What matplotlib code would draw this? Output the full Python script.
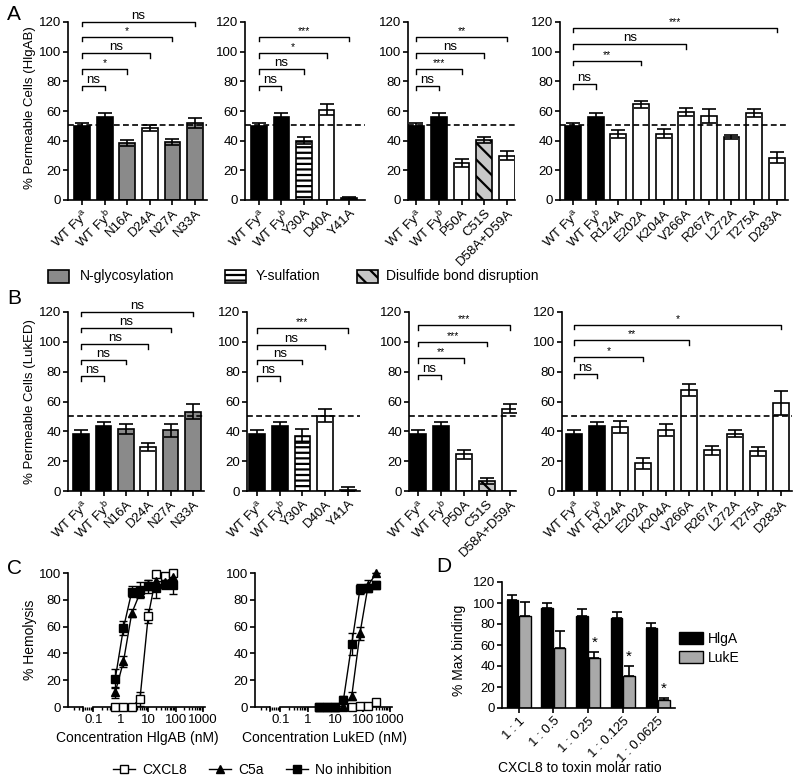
import numpy as np
import matplotlib
matplotlib.use('Agg')
import matplotlib.pyplot as plt
from matplotlib.patches import Rectangle, Patch
from matplotlib.lines import Line2D
from matplotlib.ticker import LogLocator, NullFormatter, FixedLocator, FixedFormatter

plt.rcParams['font.family'] = ['Liberation Sans', 'DejaVu Sans']
plt.rcParams['mathtext.fontset'] = 'custom'
plt.rcParams['mathtext.rm'] = 'Liberation Sans'
plt.rcParams['mathtext.it'] = 'Liberation Sans'
plt.rcParams['mathtext.default'] = 'regular'
plt.rcParams['hatch.linewidth'] = 1.6
plt.rcParams['axes.linewidth'] = 1.2
plt.rcParams['xtick.major.width'] = 1.2
plt.rcParams['ytick.major.width'] = 1.2

# ---------------- DATA ----------------
threshold = 50.5

# Panel A (HlgAB)
a1_labels = ['WT Fy$^a$', 'WT Fy$^b$', 'N16A', 'D24A', 'N27A', 'N33A']
a1_vals = [50, 56, 38.7, 48.4, 39.4, 51.8]
a1_errs = [1.8, 2.5, 2.0, 2.0, 2.0, 3.4]
a1_kind = ['wt', 'wt', 'glyco', 'plain', 'glyco', 'glyco']
a1_sig_to = [1, 2, 3, 4, 5]
a1_sig = ['ns', '*', 'ns', '*', 'ns']

a2_labels = ['WT Fy$^a$', 'WT Fy$^b$', 'Y30A', 'D40A', 'Y41A']
a2_vals = [50, 56, 40, 61, 1.5]
a2_errs = [1.8, 2.5, 2.2, 3.5, 0.5]
a2_kind = ['wt', 'wt', 'ysulf', 'plain', 'ysulf']
a2_sig_to = [1, 2, 3, 4]
a2_sig = ['ns', 'ns', '*', '***']

a3_labels = ['WT Fy$^a$', 'WT Fy$^b$', 'P50A', 'C51S', 'D58A+D59A']
a3_vals = [50, 56, 25, 40.5, 30]
a3_errs = [1.8, 2.5, 2.5, 2.2, 3.0]
a3_kind = ['wt', 'wt', 'plain', 'disulf', 'plain']
a3_sig_to = [1, 2, 3, 4]
a3_sig = ['ns', '***', 'ns', '**']

a4_labels = ['WT Fy$^a$', 'WT Fy$^b$', 'R124A', 'E202A', 'K204A', 'V266A',
             'R267A', 'L272A', 'T275A', 'D283A']
a4_vals = [50, 56, 44.3, 64.4, 44.7, 59.3, 56.6, 42.5, 58.6, 28.6]
a4_errs = [1.8, 2.5, 2.7, 2.2, 3.2, 2.8, 4.5, 1.5, 2.7, 3.6]
a4_kind = ['wt', 'wt'] + ['plain'] * 8
a4_sig_to = [1, 3, 5, 9]
a4_sig = ['ns', '**', 'ns', '***']

# Panel B (LukED)
b1_vals = [38, 43.4, 41.6, 29.5, 40.7, 53]
b1_errs = [2.8, 3.0, 3.5, 3.0, 4.5, 5.0]
b1_sig = ['ns', 'ns', 'ns', 'ns', 'ns']

b2_vals = [38, 43.4, 37, 50.5, 1]
b2_errs = [2.8, 3.0, 4.5, 4.5, 1.5]
b2_sig = ['ns', 'ns', 'ns', '***']

b3_vals = [38, 43.4, 24.7, 6.5, 55]
b3_errs = [2.8, 3.0, 3.0, 2.0, 3.0]
b3_sig = ['ns', '**', '***', '***']

b4_vals = [38, 43.4, 43, 18.5, 41.2, 68, 27.2, 38.5, 26.5, 58.8]
b4_errs = [2.8, 3.0, 4.0, 3.5, 4.0, 4.0, 3.0, 2.5, 3.0, 8.0]
b4_sig = ['ns', '*', '**', '*']

# Panel C (hemolysis)
hlg_conc = [0.625, 1.25, 2.5, 5, 10, 20, 40, 80]
hlg_cxcl8 = [0, 0, 0, 6, 68, 99, 98, 100]
hlg_cxcl8_err = [0, 0, 0, 5, 5, 2, 2, 1]
hlg_c5a = [11, 34, 70, 85, 91, 94, 93, 97]
hlg_c5a_err = [4, 4, 3, 3, 4, 3, 4, 3]
hlg_none = [21, 59, 86, 87.5, 90, 89, 92, 91]
hlg_none_err = [7, 5, 4, 6, 5, 8, 4, 7]

luk_conc = [2.5, 5, 10, 20, 40, 80, 160, 320]
luk_cxcl8 = [0, 0, 0, 0, 0, 1, 1, 4]
luk_cxcl8_err = [0, 0, 0, 0, 0, 1, 1, 2]
luk_c5a = [0, 0, 0, 0.5, 8, 55, 91, 100]
luk_c5a_err = [0, 0, 0, 0.5, 3, 5, 4, 0]
luk_none = [0, 0, 0, 5.5, 47, 88, 89, 91]
luk_none_err = [0, 0, 0, 3, 8, 4, 3, 3]

# Panel D (binding)
d_labels = ['1 : 1', '1 : 0.5', '1 : 0.25', '1 : 0.125', '1 : 0.0625']
d_hlga = [103, 95.4, 87.7, 86, 76.5]
d_hlga_err = [5, 4.6, 6.7, 5.4, 4]
d_luke = [87.6, 56.8, 47.5, 30.6, 8]
d_luke_err = [13, 17, 5.5, 9.2, 1.6]
d_luke_sig = ['', '', '*', '*', '*']

# ---------------- STYLES ----------------
STYLE = {
    'wt': ('black', None),
    'glyco': ('#8a8a8a', None),
    'plain': ('white', None),
    'ysulf': ('white', '---'),
    'disulf': ('#c8c8c8', '\\\\'),
}

W, H = 800, 782
fig = plt.figure(figsize=(8, 7.82), dpi=100)


def px_axes(l, t, r, b):
    return fig.add_axes([l / W, 1 - b / H, (r - l) / W, (b - t) / H])


def style_ax(ax):
    ax.spines['top'].set_visible(False)
    ax.spines['right'].set_visible(False)
    ax.tick_params(direction='out', length=3.5, labelsize=9.5, pad=1.5)


def bar_panel(ax, labels, vals, errs, kinds, sig_to, sig, levels, xlim):
    x = np.arange(len(vals))
    for xi, v, e, k in zip(x, vals, errs, kinds):
        fc, hatch = STYLE[k]
        ax.bar(xi, v, width=0.7, color=fc, edgecolor='k', linewidth=1.2,
               hatch=hatch, zorder=2)
    ax.errorbar(x, vals, yerr=errs, fmt='none', ecolor='k', elinewidth=1.2,
                capsize=4.8, capthick=1.2, zorder=3)
    ax.axhline(threshold, color='k', ls=(0, (3.5, 2)), lw=1.2, zorder=4)
    ax.set_ylim(0, 120)
    ax.set_yticks(range(0, 121, 20))
    ax.set_xlim(*xlim)
    ax.set_xticks(x)
    style_ax(ax)
    ax.set_xticklabels(labels, rotation=45, ha='right', rotation_mode='anchor',
                       fontsize=9.5)
    for t, s, lv in zip(sig_to, sig, levels):
        ax.plot([0, 0, t, t], [lv - 3, lv, lv, lv - 3], color='k', lw=1,
                clip_on=False)
        fs = 9.5 if s == 'ns' else 7.5
        ax.text(t / 2, lv + 2.0, s, ha='center', va='baseline', fontsize=fs,
                clip_on=False)


# Row A
axA1 = px_axes(68, 22, 207, 200)
bar_panel(axA1, a1_labels, a1_vals, a1_errs, a1_kind, a1_sig_to, a1_sig,
          [77, 88, 99, 110, 120], (-0.62, 5.53))
axA2 = px_axes(245, 22, 365, 200)
bar_panel(axA2, a2_labels, a2_vals, a2_errs, a2_kind, a2_sig_to, a2_sig,
          [77, 88, 99, 110], (-0.62, 4.71))
axA3 = px_axes(408, 22, 515, 200)
bar_panel(axA3, a3_labels, a3_vals, a3_errs, a3_kind, a3_sig_to, a3_sig,
          [77, 88, 99, 110], (-0.35, 4.35))
axA4 = px_axes(560, 22, 788, 200)
bar_panel(axA4, a4_labels, a4_vals, a4_errs, a4_kind, a4_sig_to, a4_sig,
          [78, 94, 105, 116], (-0.58, 9.5))

# Row B
axB1 = px_axes(68, 312, 204, 491)
bar_panel(axB1, a1_labels, b1_vals, b1_errs, a1_kind, a1_sig_to, b1_sig,
          [77, 88, 98.5, 109.5, 120], (-0.59, 5.5))
axB2 = px_axes(247, 312, 360, 491)
bar_panel(axB2, a2_labels, b2_vals, b2_errs, a2_kind, a2_sig_to, b2_sig,
          [77, 88, 98, 109], (-0.44, 4.53))
axB3 = px_axes(409, 312, 516, 491)
bar_panel(axB3, a3_labels, b3_vals, b3_errs, a3_kind, a3_sig_to, b3_sig,
          [78, 89, 100, 111], (-0.39, 4.26))
axB4 = px_axes(562, 312, 792, 491)
bar_panel(axB4, a4_labels, b4_vals, b4_errs, a4_kind, a4_sig_to, b4_sig,
          [78.5, 90, 101, 111.5], (-0.52, 9.48))

fig.text(30 / W, 1 - 108 / H, '% Permeable Cells (HlgAB)', rotation=90,
         ha='center', va='center', fontsize=9.5)
fig.text(30 / W, 1 - 402 / H, '% Permeable Cells (LukED)', rotation=90,
         ha='center', va='center', fontsize=9.5)

# Legend between rows A and B
leg_items = [('N-glycosylation', 'glyco', 48, 80),
             ('Y-sulfation', 'ysulf', 225, 256),
             ('Disulfide bond disruption', 'disulf', 357, 386)]
for name, kind, x0, tx in leg_items:
    fc, hatch = STYLE[kind]
    r = Rectangle((x0 / W, 1 - 283 / H), 21 / W, 13 / H, transform=fig.transFigure,
                  facecolor=fc, edgecolor='k', lw=1.2, hatch=hatch)
    fig.add_artist(r)
    fig.text(tx / W, 1 - 276.5 / H, name, ha='left', va='center', fontsize=10)

# Panel letters
fig.text(7 / W, 1 - 15 / H, 'A', fontsize=15, ha='left', va='center')
fig.text(7 / W, 1 - 298 / H, 'B', fontsize=15, ha='left', va='center')
fig.text(7 / W, 1 - 568 / H, 'C', fontsize=15, ha='left', va='center')
fig.text(436 / W, 1 - 567 / H, 'D', fontsize=15, ha='left', va='center')


# Panel C
def curve_panel(ax, conc, series):
    for vals, errs, mk, mfc in series:
        ax.errorbar(conc, vals, yerr=errs, color='k', lw=1.0, marker=mk,
                    markersize=5.5, mfc=mfc, mec='k', mew=1.0, capsize=3,
                    capthick=1.0, elinewidth=1.0, clip_on=False, zorder=3)
    ax.set_xscale('log')
    ax.set_xlim(0.0118, 1180)
    ax.set_ylim(0, 100)
    ax.set_yticks(range(0, 101, 20))
    ax.xaxis.set_major_locator(FixedLocator([0.1, 1, 10, 100, 1000]))
    ax.xaxis.set_major_formatter(FixedFormatter(['0.1', '1', '10', '100', '1000']))
    ax.xaxis.set_minor_locator(LogLocator(base=10, subs=np.arange(2, 10), numticks=20))
    ax.xaxis.set_minor_formatter(NullFormatter())
    style_ax(ax)
    ax.tick_params(axis='x', which='minor', length=2.5, width=1.0)
    ax.spines['bottom'].set_bounds(0.1, 1180)
    ax.plot([0.0118, 0.04], [0, 0], color='k', lw=1.2, clip_on=False,
            solid_capstyle='butt')
    ax.plot([0.04, 0.04], [0, -3], color='k', lw=1.2, clip_on=False)


axC1 = px_axes(68, 573, 205, 707)
curve_panel(axC1, hlg_conc, [
    (hlg_cxcl8, hlg_cxcl8_err, 's', 'white'),
    (hlg_c5a, hlg_c5a_err, '^', 'black'),
    (hlg_none, hlg_none_err, 's', 'black')])
axC2 = px_axes(255, 573, 392, 707)
curve_panel(axC2, luk_conc, [
    (luk_cxcl8, luk_cxcl8_err, 's', 'white'),
    (luk_c5a, luk_c5a_err, '^', 'black'),
    (luk_none, luk_none_err, 's', 'black')])

fig.text(30 / W, 1 - 640 / H, '% Hemolysis', rotation=90, ha='center',
         va='center', fontsize=10)
fig.text(137 / W, 1 - 738 / H, 'Concentration HlgAB (nM)', ha='center',
         va='center', fontsize=10)
fig.text(324 / W, 1 - 738 / H, 'Concentration LukED (nM)', ha='center',
         va='center', fontsize=10)

c_handles = [
    Line2D([], [], color='k', lw=1, marker='s', mfc='white', mec='k', markersize=5.5),
    Line2D([], [], color='k', lw=1, marker='^', mfc='black', mec='k', markersize=5.5),
    Line2D([], [], color='k', lw=1, marker='s', mfc='black', mec='k', markersize=5.5)]
fig.legend(c_handles, ['CXCL8', 'C5a', 'No inhibition'], loc='center',
           bbox_to_anchor=(252 / W, 1 - 770 / H), ncol=3, frameon=False,
           fontsize=10, handlelength=1.6, columnspacing=1.6, handletextpad=0.5,
           borderpad=0, borderaxespad=0)

# Panel D
axD = px_axes(502, 582, 675, 708)
xd = np.arange(len(d_labels))
off = 0.18
bw = 0.33
axD.bar(xd - off, d_hlga, width=bw, color='black', edgecolor='k', lw=1.0, zorder=2)
axD.bar(xd + off, d_luke, width=bw, color='#a9a9a9', edgecolor='k', lw=1.0, zorder=2)
axD.errorbar(xd - off, d_hlga, yerr=[np.zeros(len(d_hlga)), d_hlga_err], fmt='none',
             ecolor='k', elinewidth=1.2, capsize=3.5, capthick=1.2, zorder=3)
axD.errorbar(xd + off, d_luke, yerr=[np.zeros(len(d_luke)), d_luke_err], fmt='none',
             ecolor='k', elinewidth=1.2, capsize=3.5, capthick=1.2, zorder=3)
for xi, v, e, s in zip(xd, d_luke, d_luke_err, d_luke_sig):
    if s:
        axD.text(xi + off, v + e + 2, s, ha='center', va='bottom', fontsize=11)
axD.set_ylim(0, 120)
axD.set_yticks(range(0, 121, 20))
axD.set_xlim(-0.475, 4.5)
axD.set_xticks(xd)
style_ax(axD)
axD.set_xticklabels(d_labels, rotation=45, ha='right', rotation_mode='anchor',
                    fontsize=9.5)

fig.text(459 / W, 1 - 650 / H, '% Max binding', rotation=90, ha='center',
         va='center', fontsize=10)
fig.text(580 / W, 1 - 768 / H, 'CXCL8 to toxin molar ratio', ha='center',
         va='center', fontsize=10)
d_handles = [Patch(facecolor='black', edgecolor='k', lw=1.0),
             Patch(facecolor='#a9a9a9', edgecolor='k', lw=1.0)]
fig.legend(d_handles, ['HlgA', 'LukE'], loc='upper left',
           bbox_to_anchor=(679 / W, 1 - 632 / H), frameon=False, fontsize=10,
           handlelength=1.7, handleheight=0.9, handletextpad=0.4, labelspacing=0.35,
           borderpad=0, borderaxespad=0)

fig.savefig('out.png', dpi=100)
